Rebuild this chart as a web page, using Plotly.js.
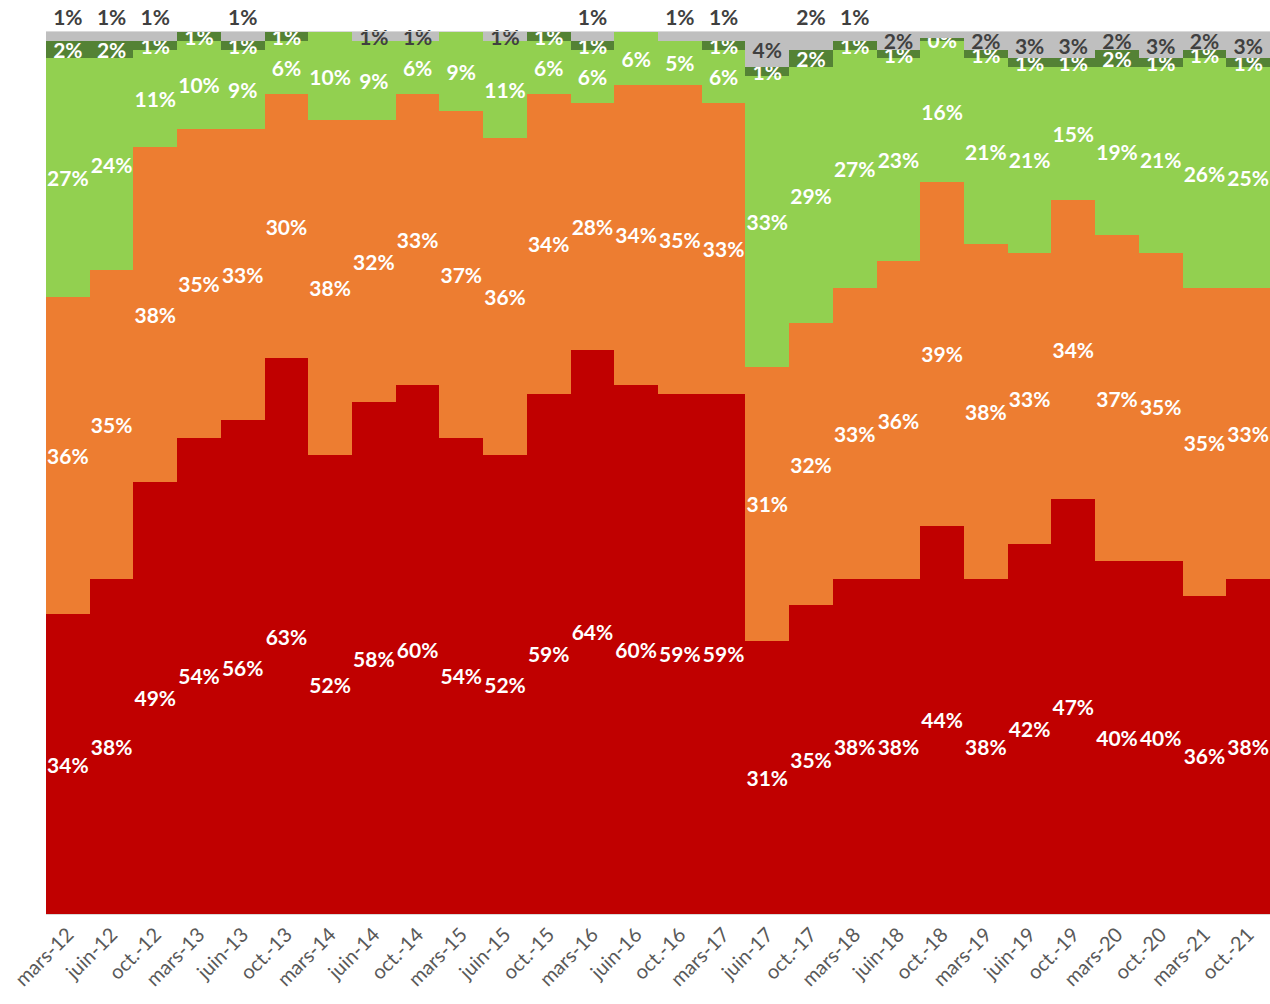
<!DOCTYPE html>
<html>
<head>
<meta charset="utf-8">
<script src="https://cdn.plot.ly/plotly-3.0.1.min.js"></script>
<style>html,body{margin:0;padding:0;background:#fff;}#chart{width:1270px;height:1004px;}</style>
</head>
<body>
<div id="chart"></div>
<script>
const categories = ['mars-12','juin-12','oct.-12','mars-13','juin-13','oct.-13','mars-14','juin-14','oct.-14','mars-15','juin-15','oct.-15','mars-16','juin-16','oct.-16','mars-17','juin-17','oct.-17','mars-18','juin-18','oct.-18','mars-19','juin-19','oct.-19','mars-20','oct.-20','mars-21','oct.-21'];
// null = segment absent (no label)
const red        = [34,38,49,54,56,63,52,58,60,54,52,59,64,60,59,59,31,35,38,38,44,38,42,47,40,40,36,38];
const orange     = [36,35,38,35,33,30,38,32,33,37,36,34,28,34,35,33,31,32,33,36,39,38,33,34,37,35,35,33];
const lightGreen = [27,24,11,10,9,6,10,9,6,9,11,6,6,6,5,6,33,29,27,23,16,21,21,15,19,21,26,25];
const darkGreen  = [2,2,1,1,1,1,null,null,null,null,null,1,1,null,null,1,1,2,1,1,0.3,1,1,1,2,1,1,1];
const grey       = [1,1,1,null,1,null,null,1,1,null,1,null,1,null,1,1,4,2,1,2,1,2,3,3,2,3,2,3];
// where the grey label sits above the bar
const greyAbove  = [1,1,1,0,1,0,0,0,0,0,0,0,1,0,1,1,0,1,1,0,0,0,0,0,0,0,0,0];

const labelFont = {family:'Lato, "Open Sans", sans-serif', size:21, color:'#ffffff', weight:700};
function lbl(arr){ return arr.map(v => v === null ? '' : Math.round(v) + '%'); }
function val(arr){ return arr.map(v => v === null ? 0 : v/100); }

function trace(arr, color, textColor, name){
  return {
    type:'bar', x:categories, y:val(arr), name:name,
    marker:{color:color, line:{width:0}},
    text:lbl(arr), textposition:'inside', insidetextanchor:'middle',
    textangle:0, constraintext:'none', cliponaxis:false,
    textfont:Object.assign({}, labelFont, {color:textColor}),
    hoverinfo:'skip'
  };
}

const tGrey = trace(grey, '#BFBFBF', '#404040', 'grey');
tGrey.textposition = greyAbove.map(a => a ? 'outside' : 'inside');
tGrey.outsidetextfont = Object.assign({}, labelFont, {color:'#404040'});
tGrey.insidetextfont = Object.assign({}, labelFont, {color:'#404040'});

const data = [
  trace(red, '#C00000', '#ffffff', 'red'),
  trace(orange, '#ED7D31', '#ffffff', 'orange'),
  trace(lightGreen, '#92D050', '#ffffff', 'lightgreen'),
  trace(darkGreen, '#548235', '#ffffff', 'darkgreen'),
  tGrey
];

const layout = {
  width:1270, height:1004,
  margin:{l:46, r:0, t:32, b:90},
  barmode:'stack', bargap:0,
  showlegend:false,
  paper_bgcolor:'#ffffff', plot_bgcolor:'#ffffff',
  xaxis:{
    type:'category', tickangle:-45, showgrid:false,
    showline:true, linecolor:'#D9D9D9', linewidth:1, mirror:true,
    ticks:'', tickfont:{family:'Lato, "Open Sans", sans-serif', size:20, color:'#595959', weight:400}
  },
  yaxis:{range:[0,1], showgrid:false, showticklabels:false, zeroline:false, showline:false, fixedrange:true},
  uniformtext:{mode:false}
};

Plotly.newPlot('chart', data, layout, {displayModeBar:false, staticPlot:true});
</script>
</body>
</html>
